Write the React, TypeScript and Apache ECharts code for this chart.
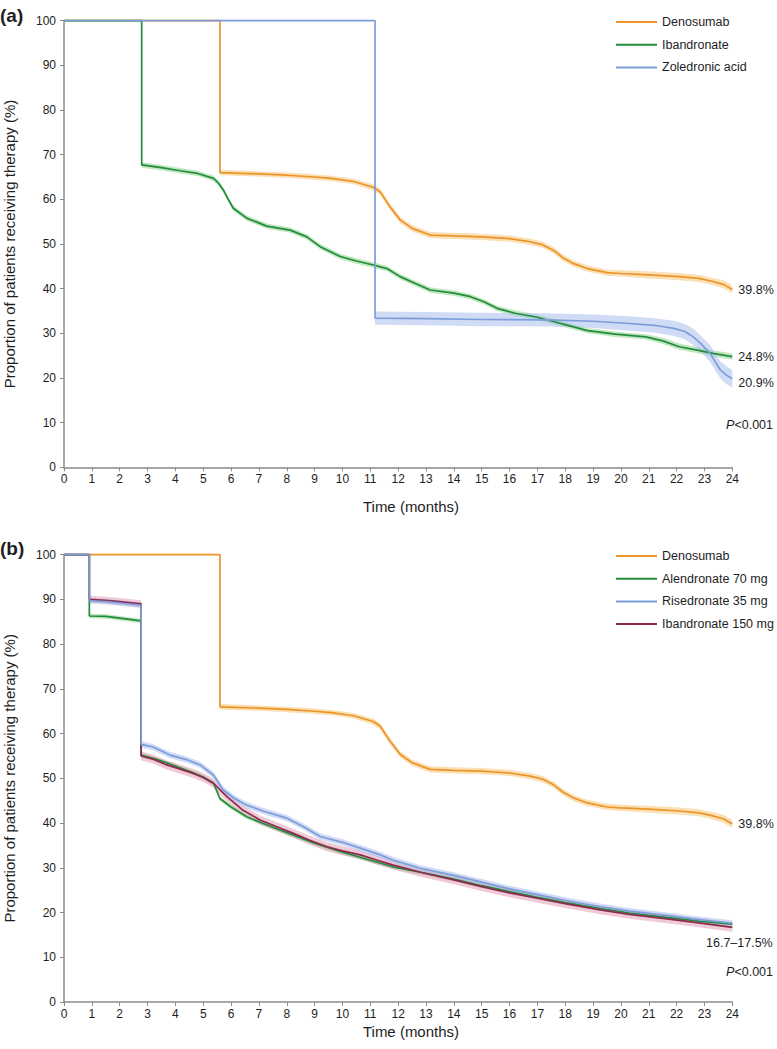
import React, { useEffect, useRef } from 'react';
import * as echarts from 'echarts';

// ---------- Panel (a) ----------
const denoMonths = [0, 5.6, 5.6, 7, 8, 9, 9.6, 10.4, 11.1, 11.35, 11.7, 12.07, 12.5, 13.15, 14, 15, 16, 16.74, 17.2, 17.6, 17.9, 18.3, 18.8, 19.5, 20, 21, 22.1, 22.8, 23.3, 23.7, 24];
const denoValues = [100, 100, 66.0, 65.7, 65.4, 65.0, 64.7, 64.0, 62.7, 61.7, 58.4, 55.4, 53.5, 52.0, 51.8, 51.6, 51.2, 50.5, 49.8, 48.5, 47.0, 45.6, 44.5, 43.6, 43.4, 43.1, 42.7, 42.3, 41.6, 40.9, 39.8];
const denoCi = [0, 0, 0.6, 0.6, 0.6, 0.6, 0.6, 0.6, 0.7, 0.7, 0.7, 0.7, 0.7, 0.7, 0.7, 0.7, 0.7, 0.7, 0.7, 0.7, 0.7, 0.7, 0.7, 0.7, 0.7, 0.8, 0.8, 0.8, 0.8, 0.9, 0.9];

const ibaMonths = [0, 2.79, 2.79, 3.5, 4.17, 4.8, 5.37, 5.55, 5.72, 5.9, 6.08, 6.56, 7.28, 8.12, 8.72, 9.2, 9.92, 10.5, 11.11, 11.6, 12.07, 12.6, 13.15, 14, 14.6, 15.1, 15.55, 16.2, 17, 17.6, 18.2, 18.8, 19.8, 20.9, 21.5, 22.1, 22.7, 23.3, 24];
const ibaValues = [100, 100, 67.7, 67.1, 66.4, 65.8, 64.7, 63.6, 62.1, 60.0, 58.0, 55.8, 54.0, 53.1, 51.6, 49.4, 47.2, 46.2, 45.3, 44.5, 42.7, 41.2, 39.7, 39.0, 38.2, 37.0, 35.6, 34.5, 33.6, 32.6, 31.6, 30.6, 29.8, 29.2, 28.3, 27.0, 26.3, 25.5, 24.8];
const ibaCi = [0, 0, 0.6, 0.6, 0.6, 0.6, 0.6, 0.6, 0.6, 0.6, 0.6, 0.6, 0.6, 0.6, 0.6, 0.6, 0.6, 0.6, 0.6, 0.6, 0.6, 0.6, 0.6, 0.6, 0.6, 0.6, 0.6, 0.6, 0.6, 0.6, 0.6, 0.6, 0.6, 0.6, 0.7, 0.7, 0.7, 0.7, 0.7];

const zolMonths = [0, 11.17, 11.17, 13, 15, 17.35, 19, 20.3, 21.2, 21.9, 22.3, 22.6, 22.9, 23.2, 23.57, 23.8, 24];
const zolValues = [100, 100, 33.4, 33.3, 33.1, 33.0, 32.7, 32.2, 31.8, 31.1, 30.4, 29.2, 27.5, 25.5, 21.8, 20.6, 19.8];
const zolCi = [0, 0, 1.5, 1.5, 1.5, 1.5, 1.5, 1.6, 1.6, 1.7, 1.7, 1.8, 1.8, 1.9, 1.9, 2.0, 2.0];

// ---------- Panel (b) ----------
const alnMonths = [0, 0.91, 0.91, 1.5, 2.0, 2.77, 2.77, 3.3, 3.9, 4.5, 5.0, 5.37, 5.6, 6.0, 6.56, 7.2, 8.24, 9.0, 10.0, 11.0, 11.83, 12.8, 14, 15, 16, 17, 18, 19.26, 20.3, 21.66, 22.8, 24];
const alnValues = [100, 100, 86.3, 86.2, 85.8, 85.2, 55.2, 54.3, 53.0, 51.6, 50.3, 48.9, 45.5, 43.6, 41.4, 39.8, 37.3, 35.5, 33.5, 31.7, 30.2, 29.0, 27.5, 26.0, 24.7, 23.4, 22.2, 20.9, 19.9, 18.9, 18.1, 17.4];
const alnCi = [0, 0, 0.5, 0.5, 0.5, 0.5, 0.5, 0.5, 0.5, 0.5, 0.5, 0.5, 0.5, 0.5, 0.5, 0.5, 0.5, 0.5, 0.5, 0.5, 0.5, 0.5, 0.5, 0.5, 0.5, 0.5, 0.5, 0.5, 0.5, 0.5, 0.5, 0.5];

const risMonths = [0, 0.91, 0.91, 1.5, 2.0, 2.77, 2.77, 3.2, 3.81, 4.4, 4.89, 5.37, 5.72, 6.1, 6.56, 7.2, 8.0, 8.6, 9.2, 10.0, 10.64, 11.3, 11.83, 12.8, 14, 15, 16, 17, 18, 19.26, 20.3, 21.66, 22.8, 24];
const risValues = [100, 100, 89.7, 89.5, 89.2, 88.7, 57.6, 57.0, 55.2, 54.2, 53.0, 50.7, 47.4, 45.6, 44.0, 42.6, 41.1, 39.2, 37.0, 35.7, 34.4, 33.0, 31.7, 29.9, 28.3, 26.8, 25.3, 24.0, 22.7, 21.3, 20.3, 19.3, 18.4, 17.6];
const risCi = [0, 0, 0.6, 0.6, 0.6, 0.6, 0.7, 0.7, 0.7, 0.7, 0.7, 0.7, 0.7, 0.7, 0.7, 0.7, 0.7, 0.7, 0.7, 0.7, 0.7, 0.7, 0.7, 0.7, 0.7, 0.7, 0.7, 0.7, 0.7, 0.7, 0.7, 0.7, 0.7, 0.7];

const ib150Months = [0, 0.91, 0.91, 1.5, 2.0, 2.77, 2.77, 3.2, 3.69, 4.2, 4.65, 5.0, 5.37, 5.85, 6.4, 7.04, 7.6, 8.24, 8.8, 9.44, 10.0, 10.64, 11.2, 11.83, 12.8, 14, 15, 16, 17, 18, 19.26, 20.3, 21.66, 22.8, 24];
const ib150Values = [100, 100, 90.0, 89.8, 89.5, 89.0, 55.0, 54.3, 53.0, 52.0, 51.1, 50.2, 48.9, 45.9, 43.0, 40.7, 39.3, 37.7, 36.2, 34.7, 33.8, 32.9, 31.8, 30.6, 29.0, 27.3, 25.8, 24.4, 23.2, 22.0, 20.6, 19.6, 18.6, 17.7, 16.7];
const ib150Ci = [0, 0, 0.8, 0.8, 0.8, 0.8, 1.0, 1.0, 1.0, 1.0, 1.0, 1.0, 1.0, 1.0, 1.0, 1.0, 1.0, 1.0, 1.0, 1.0, 1.0, 1.0, 1.0, 1.0, 1.0, 1.0, 1.0, 1.0, 1.0, 1.0, 1.0, 1.0, 1.0, 1.0, 1.0];

const xTicks = { min: 0, max: 24, interval: 1 };
const yTicks = { min: 0, max: 100, interval: 10 };

const legendA = ['Denosumab', 'Ibandronate', 'Zoledronic acid'];
const legendB = ['Denosumab', 'Alendronate 70 mg', 'Risedronate 35 mg', 'Ibandronate 150 mg'];

const FONT = "'Liberation Sans', Arial, Helvetica, sans-serif";
const TXT = '#1e1e1e';
const AXIS = '#8a8a8a';

const C_ORANGE = '#EC9428';
const C_GREEN = '#228C3A';
const C_BLUE = '#7D9DDA';
const C_MAROON = '#8E2A50';
const B_ORANGE = 'rgba(248,196,120,0.55)';
const B_GREEN = 'rgba(150,215,150,0.6)';
const B_BLUE = 'rgba(170,192,236,0.55)';
const B_PINK = 'rgba(226,150,175,0.5)';

function pairs(months: number[], values: number[]) {
  return months.map((m, i) => [m, values[i]]);
}

function lineSeries(name: string, months: number[], values: number[], color: string, gi: number, endText?: string, endOffset?: number[]) {
  const s: any = {
    type: 'line',
    name,
    xAxisIndex: gi,
    yAxisIndex: gi,
    data: pairs(months, values),
    showSymbol: false,
    symbol: 'none',
    clip: false,
    z: 3,
    color,
    itemStyle: { color },
    lineStyle: { color, width: 1.7 },
    emphasis: { disabled: true },
  };
  if (endText) {
    s.endLabel = {
      show: true,
      formatter: () => endText,
      distance: 6,
      offset: endOffset || [0, 0],
      color: TXT,
      fontSize: 12.5,
      fontFamily: FONT,
    };
  }
  return s;
}

function bandSeries(months: number[], values: number[], ci: number[], fill: string, gi: number) {
  const upper = months.map((m, i) => [m, Math.min(100, values[i] + ci[i])]);
  const lower = months.map((m, i) => [m, values[i] - ci[i]]);
  return {
    type: 'custom',
    coordinateSystem: 'cartesian2d',
    xAxisIndex: gi,
    yAxisIndex: gi,
    silent: true,
    z: 1,
    data: [[0, 0]],
    renderItem: (_params: any, api: any) => {
      const pts = upper.map((p) => api.coord(p)).concat(lower.slice().reverse().map((p) => api.coord(p)));
      return { type: 'polygon', shape: { points: pts }, style: { fill } };
    },
  };
}

function makeXAxis(gi: number) {
  return {
    type: 'value',
    gridIndex: gi,
    ...xTicks,
    axisLine: { show: true, onZero: false, lineStyle: { color: AXIS, width: 1.5 } },
    axisTick: { show: true, length: 4, lineStyle: { color: AXIS, width: 1 } },
    axisLabel: { color: TXT, fontSize: 12, fontFamily: FONT, margin: 6 },
    splitLine: { show: false },
  };
}

function makeYAxis(gi: number) {
  return {
    type: 'value',
    gridIndex: gi,
    ...yTicks,
    name: 'Proportion of patients receiving therapy (%)',
    nameLocation: 'middle',
    nameRotate: 90,
    nameGap: 47,
    nameTextStyle: { color: TXT, fontSize: 15, fontFamily: FONT },
    axisLine: { show: true, onZero: false, lineStyle: { color: AXIS, width: 1.5 } },
    axisTick: { show: true, length: 4, lineStyle: { color: AXIS, width: 1 } },
    axisLabel: { color: TXT, fontSize: 12, fontFamily: FONT, margin: 8 },
    splitLine: { show: false },
  };
}

function makeLegend(data: string[], top: number) {
  return {
    orient: 'vertical',
    left: 611,
    top,
    padding: 5,
    data,
    icon: 'rect',
    itemWidth: 41,
    itemHeight: 2,
    itemGap: 6.7,
    selectedMode: false,
    textStyle: { color: TXT, fontSize: 12.5, fontFamily: FONT, lineHeight: 16 },
  };
}

function pText(x: number, y: number) {
  return {
    type: 'text',
    x,
    y,
    style: {
      text: '{i|P}<0.001',
      rich: { i: { fontStyle: 'italic', fontSize: 12.5, fontFamily: FONT, fill: TXT } },
      fontSize: 12.5,
      fontFamily: FONT,
      fill: TXT,
      align: 'right',
      verticalAlign: 'middle',
    },
  };
}

function plainText(text: string, x: number, y: number, fontSize: number, align: string, bold?: boolean) {
  return {
    type: 'text',
    x,
    y,
    style: {
      text,
      fontSize,
      fontFamily: FONT,
      fontWeight: bold ? 'bold' : 'normal',
      fill: TXT,
      align,
      verticalAlign: 'middle',
    },
  };
}

export default function App() {
  const ref = useRef<HTMLDivElement>(null);
  useEffect(() => {
    if (!ref.current) return;
    const chart = echarts.init(ref.current, undefined, { renderer: 'svg' });
    const option: any = {
      animation: false,
      backgroundColor: '#ffffff',
      textStyle: { fontFamily: FONT },
      grid: [
        { left: 64, top: 20.7, width: 668.3, height: 446.6, containLabel: false, outerBoundsMode: 'none' },
        { left: 64, top: 554.7, width: 668.3, height: 447.3, containLabel: false, outerBoundsMode: 'none' },
      ],
      xAxis: [makeXAxis(0), makeXAxis(1)],
      yAxis: [makeYAxis(0), makeYAxis(1)],
      legend: [makeLegend(legendA, 9), makeLegend(legendB, 543)],
      series: [
        bandSeries(denoMonths, denoValues, denoCi, B_ORANGE, 0),
        bandSeries(ibaMonths, ibaValues, ibaCi, B_GREEN, 0),
        bandSeries(zolMonths, zolValues, zolCi, B_BLUE, 0),
        lineSeries('Denosumab', denoMonths, denoValues, C_ORANGE, 0, '39.8%'),
        lineSeries('Ibandronate', ibaMonths, ibaValues, C_GREEN, 0, '24.8%'),
        lineSeries('Zoledronic acid', zolMonths, zolValues, C_BLUE, 0, '20.9%', [0, 4]),

        bandSeries(denoMonths, denoValues, denoCi, B_ORANGE, 1),
        bandSeries(alnMonths, alnValues, alnCi, B_GREEN, 1),
        bandSeries(ib150Months, ib150Values, ib150Ci, B_PINK, 1),
        bandSeries(risMonths, risValues, risCi, B_BLUE, 1),
        lineSeries('Denosumab', denoMonths, denoValues, C_ORANGE, 1, '39.8%'),
        lineSeries('Alendronate 70 mg', alnMonths, alnValues, C_GREEN, 1),
        lineSeries('Ibandronate 150 mg', ib150Months, ib150Values, C_MAROON, 1),
        lineSeries('Risedronate 35 mg', risMonths, risValues, C_BLUE, 1),
      ],
      graphic: [
        plainText('(a)', 0, 15, 19, 'left', true),
        plainText('(b)', 0, 548, 19, 'left', true),
        plainText('Time (months)', 411, 506, 15, 'center'),
        plainText('Time (months)', 411, 1031, 15, 'center'),
        pText(773, 425),
        pText(773, 972),
        plainText('16.7–17.5%', 706, 943, 12.5, 'left'),
      ],
    };
    chart.setOption(option);
    return () => chart.dispose();
  }, []);
  return (
    <div
      ref={ref}
      style={{ position: 'absolute', left: 0, top: 0, width: 777, height: 1049, background: '#fff' }}
    />
  );
}
